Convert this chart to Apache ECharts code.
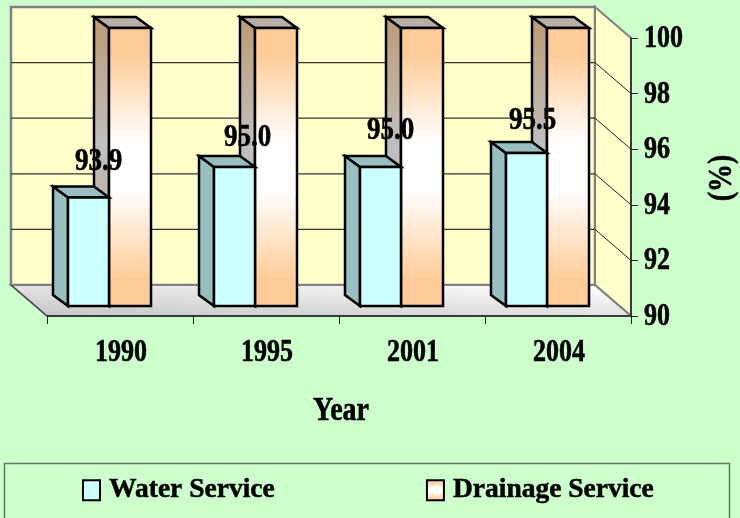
<!DOCTYPE html>
<html><head><meta charset="utf-8">
<style>html,body{margin:0;padding:0;background:#CCFFCC}#c{width:740px;height:518px}</style>
<script src="https://cdn.jsdelivr.net/npm/echarts@6/dist/echarts.min.js"></script>
</head><body><div id="c"></div>
<script>
const years = ['1990','1995','2001','2004'];
const waterService = [93.9,95.0,95.0,95.5];
const drainageService = [100,100,100,100];
const waterLabels = ['93.9','95.0','95.0','95.5'];
const valueTicks = [90,92,94,96,98,100];
const waterName='Water Service', drainageName='Drainage Service';
const xTitle='Year', yTitle='(%)';

// layout of the pseudo-3D box
const BACK={x:-36,y:-31}, PLANE_Y=-10, BAR={x:-15,y:-11};
const WATER_L=-52, SPLIT=-11, DRAIN_R=31;
const LABEL_NUDGE=[[10,-36],[13,-29],[10,-36],[6,-32]];
const SERIF='"Liberation Serif"', STRETCH=1.2;
const vg=(stops)=>new echarts.graphic.LinearGradient(0,0,0,1,stops.map((c,i)=>({offset:c[0],color:c[1]})));
const ink=(text,size,align)=>({text,fill:'#000',stroke:'#000',lineWidth:.5,font:`bold ${size}px ${SERIF}`,textAlign:align||'center',textVerticalAlign:'middle'});
const bigText=(x,y,text,size,rot)=>({type:'text',x,y,rotation:rot||0,scaleY:STRETCH,style:ink(text,size),z2:50});
const thick={stroke:'#000',lineWidth:2.5,lineJoin:'miter'};

function frame(params,api){
  const cs=params.coordSys, L=cs.x, R=cs.x+cs.width, T=cs.y, B=cs.y+cs.height;
  const kids=[];
  const bx=BACK.x, by=BACK.y;
  kids.push({type:'polygon',shape:{points:[[L+bx,T+by],[R+bx,T+by],[R+bx,B+by],[L+bx,B+by]]},
    style:{fill:'#FFFFCC',stroke:'#808080',lineWidth:2.5}});
  kids.push({type:'polygon',shape:{points:[[R+bx,T+by],[R,T],[R,B],[R+bx,B+by]]},
    style:{fill:'#FFFFCC',stroke:'#808080',lineWidth:2}});
  kids.push({type:'polygon',shape:{points:[[L+bx,B+by],[R+bx,B+by],[R,B],[L,B]]},
    style:{fill:new echarts.graphic.LinearGradient(L,B,L+3,B-66,[{offset:0,color:'#C6C6C6'},{offset:.85,color:'#FFFFFF'}],true),stroke:'#808080',lineWidth:2}});
  kids.push({type:'line',shape:{x1:L+bx,y1:B+by,x2:L,y2:B},style:{stroke:'#333',lineWidth:1}});
  valueTicks.forEach(v=>{
    if(v===90||v===100)return;
    const y=api.coord([0,v])[1];
    kids.push({type:'line',shape:{x1:L+bx,y1:y+by,x2:R+bx,y2:y+by},style:{stroke:'#333',lineWidth:1.2}});
    kids.push({type:'line',shape:{x1:R+bx,y1:y+by,x2:R,y2:y},style:{stroke:'#222',lineWidth:1}});
  });
  return {type:'group',children:kids};
}
function axisText(params,api){
  const cs=params.coordSys, R=cs.x+cs.width, B=cs.y+cs.height;
  const kids=[];
  valueTicks.forEach(v=>{
    const y=api.coord([0,v])[1];
    kids.push({type:'text',x:R+13,y:y+1,scaleY:STRETCH,style:ink(String(v),26,'left')});
  });
  years.forEach((c,i)=>kids.push(bigText(api.coord([i,90])[0]+1,B+37,c,26)));
  kids.push(bigText(cs.x+cs.width/2+2,B+95,xTitle,28));
  kids.push(bigText(722,178,yTitle,28,Math.PI/2));
  return {type:'group',children:kids};
}
function box(l,r,top,base,front,side,cap){
  const dx=BAR.x, dy=BAR.y;
  return {type:'group',children:[
    {type:'polygon',shape:{points:[[l+dx,top+dy],[l,top],[l,base],[l+dx,base+dy]]},style:Object.assign({fill:side},thick)},
    {type:'polygon',shape:{points:[[l+dx,top+dy],[r+dx,top+dy],[r,top],[l,top]]},style:Object.assign({fill:cap},thick)},
    {type:'polygon',shape:{points:[[l,top],[r,top],[r,base],[l,base]]},style:Object.assign({fill:front},thick)}
  ]};
}
function waterBar(params,api){
  const p=api.coord([api.value(0),api.value(1)]), b=api.coord([api.value(0),90]);
  return box(p[0]+WATER_L,p[0]+SPLIT,p[1]+PLANE_Y,b[1]+PLANE_Y,'#CCFFFF','#99C0C0','#99C0C0');
}
const drainFront=()=>vg([[0,'#FFCC99'],[.1,'#FFCC99'],[.42,'#FFFFFF'],[.58,'#FFFFFF'],[.9,'#FFCC99'],[1,'#FFCC99']]);
const drainSide=()=>vg([[0,'#BC9A74'],[.45,'#C0C0C0'],[1,'#BC9A74']]);
function drainBar(params,api){
  const p=api.coord([api.value(0),api.value(1)]), b=api.coord([api.value(0),90]);
  return box(p[0]+SPLIT,p[0]+DRAIN_R,p[1]+PLANE_Y,b[1]+PLANE_Y,drainFront(),drainSide(),'#B8B0A8');
}
function dataLabel(params,api){
  const i=api.value(0), p=api.coord([i,api.value(1)]);
  const cx=p[0]+(WATER_L+SPLIT)/2, n=LABEL_NUDGE[i];
  return bigText(cx+n[0],p[1]+PLANE_Y+n[1],waterLabels[i],27);
}

const chart=echarts.init(document.getElementById('c'),null,{renderer:'canvas'});
chart.setOption({
  animation:false,
  backgroundColor:'#CCFFCC',
  grid:{left:47,right:109,top:38,bottom:202,containLabel:false},
  xAxis:{type:'category',data:years,z:5,
    axisLine:{lineStyle:{color:'#222',width:1.5}},
    axisTick:{show:true,alignWithLabel:false,length:8,lineStyle:{color:'#222',width:1}},
    axisLabel:{show:false},splitLine:{show:false}},
  yAxis:{type:'value',position:'right',min:90,max:100,interval:2,z:5,
    axisLine:{show:true,lineStyle:{color:'#222',width:1.5}},
    axisTick:{show:true,length:7,lineStyle:{color:'#222',width:1}},
    axisLabel:{show:false},splitLine:{show:false}},
  graphic:[{type:'rect',left:2,top:461,shape:{width:725,height:70},z:0,style:{fill:'none',stroke:'#5F7A5F',lineWidth:1.5}}],
  legend:{left:82,top:476,padding:0,orient:'horizontal',itemWidth:17,itemHeight:20,itemGap:151,
    selectedMode:false,
    textStyle:{fontFamily:'Liberation Serif',fontWeight:'bold',fontSize:27.5,color:'#000',padding:[0,0,0,4],textBorderColor:'#000',textBorderWidth:.5},
    data:[
      {name:waterName,icon:'rect',itemStyle:{color:'#CCFFFF',borderColor:'#000',borderWidth:2}},
      {name:drainageName,icon:'rect',itemStyle:{color:drainFront(),borderColor:'#000',borderWidth:2}}
    ]},
  series:[
    {type:'custom',name:'frame',silent:true,z:1,data:[[0,90]],encode:{x:0,y:1},renderItem:frame},
    {type:'custom',name:drainageName,z:2,itemStyle:{color:'#FFCC99'},data:drainageService.map((v,i)=>[i,v]),encode:{x:0,y:1},renderItem:drainBar},
    {type:'custom',name:waterName,z:3,itemStyle:{color:'#CCFFFF'},data:waterService.map((v,i)=>[i,v]),encode:{x:0,y:1},renderItem:waterBar},
    {type:'custom',name:'labels',silent:true,z:6,data:waterService.map((v,i)=>[i,v]),encode:{x:0,y:1},renderItem:dataLabel},
    {type:'custom',name:'axisText',silent:true,z:6,data:[[0,90]],encode:{x:0,y:1},renderItem:axisText}
  ]
});
</script></body></html>
